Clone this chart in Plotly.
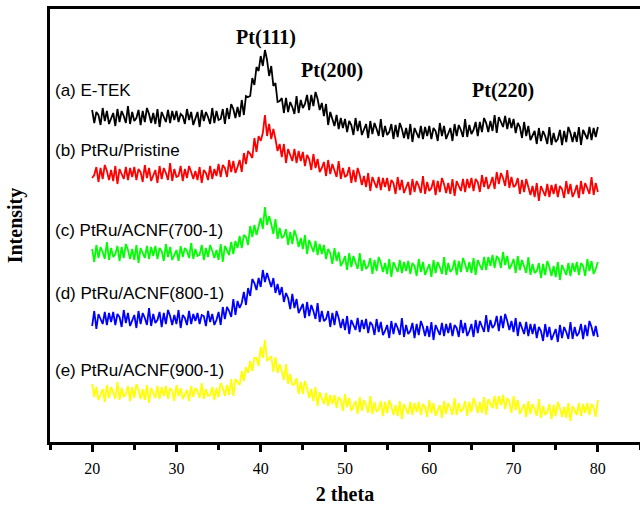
import numpy as np
import plotly.graph_objects as go

# scan positions (2 theta, 0.25 degree step)
two_theta = np.linspace(20.0, 80.0, 241)

etek = [332,319,330,327,317,334,321,331,318,323,329,316,333,320,331,326,319,336,318,330,
        321,324,332,317,331,320,334,328,319,329,318,333,315,330,325,320,332,319,331,322,
        331,320,328,326,318,333,322,330,317,324,330,315,332,321,330,325,318,334,319,331,
        322,323,333,318,334,323,338,333,324,335,325,342,327,346,345,346,364,357,375,371,
        386,376,392,382,366,376,356,359,340,341,344,329,344,330,340,335,328,346,329,342,
        334,338,347,332,347,336,350,343,332,339,326,338,317,330,323,316,327,313,324,314,
        323,310,321,317,307,324,311,321,307,312,318,304,321,308,319,313,306,323,305,316,
        307,310,318,303,317,305,319,313,304,314,303,318,300,314,309,304,316,303,315,306,
        316,303,314,311,301,319,306,316,303,308,314,301,318,306,317,312,305,323,305,317,
        308,312,320,306,320,310,324,319,310,321,311,327,309,325,320,315,326,313,324,314,
        323,309,319,315,304,320,306,316,302,306,311,298,314,301,311,306,298,315,297,309,
        300,303,312,297,311,300,315,309,300,310,300,315,297,312,308,303,315,302,314,305,
        315]

pristine = [264,267,275,260,274,263,277,271,262,272,261,276,258,273,268,263,275,262,274,265,
            275,262,273,270,260,277,264,274,261,266,272,259,276,263,274,269,262,279,261,273,
            265,266,276,261,273,264,276,270,263,271,262,275,259,272,269,262,276,263,273,266,
            278,265,277,274,265,282,270,281,269,275,282,270,289,278,291,288,284,304,290,306,
            301,309,327,306,318,303,313,303,291,298,285,298,279,293,287,281,293,279,291,281,
            290,276,287,283,272,288,274,283,270,274,280,266,282,268,278,272,265,281,263,274,
            265,267,275,259,272,260,274,267,257,266,255,269,251,265,260,254,265,252,264,255,
            264,251,262,259,248,265,252,262,249,254,260,247,263,250,261,256,249,266,248,260,
            251,254,262,247,261,250,264,258,249,259,248,263,246,261,256,251,263,250,263,254,
            264,251,263,260,250,267,255,265,253,258,265,253,270,258,269,264,256,272,254,265,
            255,257,264,248,262,250,263,256,247,256,245,259,241,256,251,246,258,245,257,248,
            258,245,256,253,244,261,248,258,245,250,257,244,261,248,259,254,248,265,247,259,
            250]

acnf700 = [193,180,197,184,195,190,183,200,182,194,185,188,196,181,195,184,198,192,183,193,
           182,197,179,194,189,184,196,183,195,186,196,183,194,191,181,198,185,195,182,187,
           192,181,196,185,194,191,184,199,183,193,186,187,197,182,194,185,197,191,184,192,
           182,198,180,196,191,187,200,188,201,194,206,194,207,205,197,216,205,217,207,215,
           224,213,235,217,226,218,208,223,203,214,204,206,213,197,210,198,212,205,195,204,
           193,207,188,202,196,190,201,187,198,188,197,183,193,189,178,194,181,190,176,180,
           186,172,189,175,186,180,173,189,171,182,173,176,184,168,182,171,185,179,170,179,
           168,183,165,180,175,170,182,169,180,171,181,168,179,176,166,183,170,180,167,172,
           178,165,182,169,180,175,168,185,167,179,170,173,182,167,181,170,184,178,170,180,
           169,184,167,182,177,172,185,172,185,176,187,174,186,183,174,190,177,186,173,177,
           183,169,186,172,182,176,169,185,167,178,169,171,179,164,178,167,181,175,166,176,
           165,180,162,177,172,167,179,166,179,170,180,167,179,176,166,183,171,181,168,173,
           180]

acnf800 = [116,131,113,128,123,118,130,117,129,120,130,117,128,125,115,132,119,129,116,121,
           127,114,131,118,129,124,117,134,116,128,119,122,130,115,129,118,132,126,117,127,
           118,132,114,127,124,117,131,118,128,121,129,118,127,126,116,131,120,128,117,122,
           130,117,135,123,135,131,125,143,127,141,134,139,150,137,154,146,163,159,152,164,
           155,172,160,169,162,155,164,149,158,147,155,140,149,144,133,148,134,143,129,133,
           138,124,140,126,137,131,123,139,120,131,121,123,131,115,129,117,131,124,114,123,
           112,126,108,122,117,112,124,110,122,113,123,109,120,117,107,123,110,120,107,111,
           117,104,121,108,119,114,107,124,105,117,108,111,119,104,118,107,121,115,106,116,
           105,120,102,117,112,107,119,106,118,109,119,106,117,114,105,122,109,119,106,111,
           118,105,122,109,121,116,110,127,110,122,114,117,126,111,126,114,128,121,112,121,
           110,124,106,120,114,108,120,106,118,108,118,104,115,111,101,118,105,115,102,107,
           113,100,117,104,115,110,103,120,103,115,106,109,118,103,117,106,121,115,106,116,
           105]

acnf900 = [58,45,55,42,47,53,40,57,44,55,50,43,60,42,54,45,48,56,41,55,
           44,58,52,43,53,42,57,39,54,49,44,56,43,55,46,56,43,54,51,41,
           57,46,54,43,48,52,41,56,45,54,51,44,59,43,53,46,47,55,42,54,
           45,59,54,46,57,47,63,46,63,60,57,71,61,75,69,81,71,84,84,76,
           95,84,102,81,83,86,70,85,69,78,71,62,78,58,68,57,58,64,48,60,
           48,61,54,44,53,41,55,36,50,44,38,49,36,47,38,47,34,45,42,31,
           48,35,44,31,36,41,28,45,31,42,37,29,46,28,40,30,33,41,26,40,
           29,42,36,27,37,26,41,23,38,33,28,40,27,39,30,40,27,38,35,25,
           42,29,39,26,31,37,24,41,28,39,34,27,44,27,39,30,33,41,26,40,
           30,44,38,29,40,29,45,27,43,38,34,46,33,46,37,47,33,44,40,29,
           46,32,42,28,33,38,25,41,28,38,33,26,43,24,36,27,30,38,23,37,
           26,40,34,25,35,24,39,21,36,31,27,39,26,38,29,39,27,38,35,25,
           42]

series_names = ["(a) E-TEK", "(b) PtRu/Pristine", "(c) PtRu/ACNF(700-1)",
                "(d) PtRu/ACNF(800-1)", "(e) PtRu/ACNF(900-1)"]
series_values = [etek, pristine, acnf700, acnf800, acnf900]
series_colors = ["#000000", "#FF0000", "#00FF00", "#0000FF", "#FFFF00"]

peak_names = ["Pt(111)", "Pt(200)", "Pt(220)"]

# text anchor positions (data coords)
label_x = 15.3
label_y = [352, 292, 212, 149, 72]
peak_x = [40.6, 48.4, 68.8]
peak_y = [405, 372, 352]

fig = go.Figure()
for name, vals, col in zip(series_names, series_values, series_colors):
    fig.add_trace(go.Scatter(x=two_theta, y=vals, mode="lines", name=name,
                             line=dict(color=col, width=1.8), showlegend=False))

for name, ly in zip(series_names, label_y):
    fig.add_annotation(x=label_x, y=ly, xref="x", yref="y", text=name, showarrow=False,
                       xanchor="left", yanchor="middle",
                       font=dict(family="Liberation Sans, Arial", size=17, color="black"))

for name, px, py in zip(peak_names, peak_x, peak_y):
    fig.add_annotation(x=px, y=py, xref="x", yref="y", text=name, showarrow=False,
                       xanchor="center", yanchor="middle",
                       font=dict(family="Liberation Serif, Times New Roman", size=20,
                                 color="black", weight="bold"))

fig.update_layout(
    width=640, height=507,
    margin=dict(l=50, r=0, t=9, b=65),
    plot_bgcolor="white", paper_bgcolor="white",
    xaxis=dict(range=[15, 85], tick0=0, dtick=10, ticks="outside", ticklen=7,
               tickwidth=2.5, tickcolor="black", showline=True, linewidth=2.5,
               linecolor="black", mirror=True, showgrid=False, zeroline=False,
               ticklabelstandoff=3, automargin=False,
               tickfont=dict(family="Liberation Serif, Times New Roman", size=16, color="black"),
               minor=dict(tick0=15, dtick=5, ticks="outside", ticklen=5, tickwidth=2.5,
                          tickcolor="black", showgrid=False),
               title=dict(text="2 theta", standoff=12,
                          font=dict(family="Liberation Serif, Times New Roman", size=20,
                                    color="black", weight="bold"))),
    yaxis=dict(range=[0, 433], showticklabels=False, ticks="", showline=True,
               linewidth=2.5, linecolor="black", mirror=False, showgrid=False,
               zeroline=False, automargin=False,
               title=dict(text="Intensity", standoff=20,
                          font=dict(family="Liberation Serif, Times New Roman", size=20,
                                    color="black", weight="bold"))),
)

fig.write_html("out.html", config={"displayModeBar": False},
               post_script="document.body.style.margin='0';document.body.style.padding='0';"
                           "document.body.style.overflow='hidden';")
